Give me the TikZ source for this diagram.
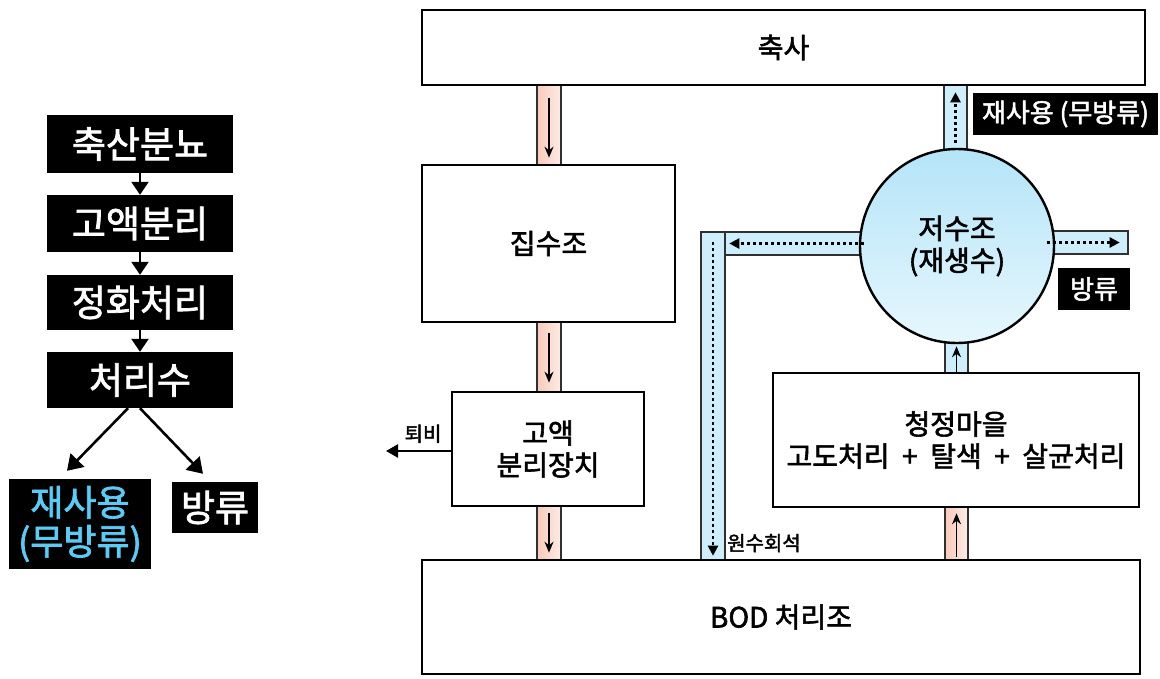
\documentclass[tikz,border=0pt]{standalone}
\usepackage{fontspec}
\setmainfont{Noto Sans CJK KR}
\newfontfamily\kr{Noto Sans CJK KR}[FakeBold=2]
\usetikzlibrary{arrows.meta}
\definecolor{pinkL}{HTML}{F8C9BA}
\definecolor{pinkR}{HTML}{FDEDE7}
\definecolor{pipeblue}{HTML}{CDEEFA}
\definecolor{circTop}{HTML}{B5E4F8}
\definecolor{circBot}{HTML}{E6F7FD}
\definecolor{cyantext}{HTML}{5EC9F2}
\definecolor{pipeline}{HTML}{303030}
\begin{document}
\begin{tikzpicture}[x=1pt,y=-1pt,
  box/.style={draw=black,line width=2.4pt,fill=white,inner sep=0pt,align=center,font=\kr\fontsize{28}{32}\selectfont},
  blk/.style={fill=black,text=white,inner sep=0pt,align=center,font=\kr\fontsize{37}{40}\selectfont},
  lbl/.style={fill=black,text=white,inner sep=0pt,align=center,font=\kr\fontsize{26}{30}\selectfont},
  ppipe/.style={draw=pipeline,line width=1.4pt,left color=pinkL,right color=pinkR,inner sep=0pt},
  bpipe/.style={draw=pipeline,line width=1.4pt,fill=pipeblue,inner sep=0pt},
  solidarr/.style={line width=1.5pt,-{Stealth[length=11pt,width=9pt]}},
  dotarr/.style={line width=2.4pt,dash pattern=on 2.4pt off 3.6pt,-{Triangle[length=10pt,width=10pt]}},
  flowarr/.style={line width=2.6pt,-{Triangle[length=15pt,width=19pt]}},
  shortarr/.style={line width=2.4pt,-{Triangle[length=13pt,width=17pt]}},
  small/.style={inner sep=0pt,font=\kr\fontsize{20}{24}\selectfont}
]
\useasboundingbox (0,0) rectangle (1160,678);
\fill[white] (0,0) rectangle (1160,678);

% ---------- left flowchart ----------
\node[blk,minimum width=186pt,minimum height=58pt] (b1) at (140,144) {축산분뇨};
\node[blk,minimum width=186pt,minimum height=57pt] (b2) at (140,223.5) {고액분리};
\node[blk,minimum width=186pt,minimum height=55pt] (b3) at (140,302.5) {정화처리};
\node[blk,minimum width=186pt,minimum height=56pt] (b4) at (140,380) {처리수};
\node[blk,text=cyantext,minimum width=142pt,minimum height=90pt,font=\kr\fontsize{36}{39}\selectfont] (b5) at (80,524) {재사용\\(무방류)};
\node[blk,minimum width=86pt,minimum height=51pt] (b6) at (215,507.5) {방류};
\draw[shortarr] (b1.south) -- (b2.north);
\draw[shortarr] (b2.south) -- (b3.north);
\draw[shortarr] (b3.south) -- (b4.north);
\draw[flowarr] ([xshift=-12pt]b4.south) -- ([xshift=-13pt,yshift=8pt]b5.north);
\draw[flowarr] (b4.south) -- ([xshift=-12pt,yshift=8pt]b6.north);

% ---------- pipes ----------
\node[ppipe,minimum width=24pt,minimum height=84pt] (p1) at (549,125) {};
\node[ppipe,minimum width=24pt,minimum height=74pt] (p2) at (549,357) {};
\node[ppipe,minimum width=24pt,minimum height=58pt] (p3) at (549,533) {};
\node[ppipe,minimum width=23pt,minimum height=58pt] (p4) at (956.5,533) {};
\node[bpipe,minimum width=23pt,minimum height=36pt] (q1) at (956.5,357) {};
\node[bpipe,minimum width=23pt,minimum height=72pt] (q2) at (955.5,119) {};
\node[bpipe,minimum width=85pt,minimum height=23pt] (q3) at (1085.5,242.5) {};
\node[bpipe,minimum width=145pt,minimum height=23pt] (q4) at (797.5,243.5) {};
\node[bpipe,minimum width=24pt,minimum height=330pt] (q5) at (713,397) {};

% ---------- main boxes ----------
\node[box,minimum width=723pt,minimum height=75pt] (chuksa) at (783.5,47.5) {축사};
\node[box,minimum width=253pt,minimum height=157pt] (jipsu) at (548.5,243.5) {집수조};
\node[box,minimum width=192pt,minimum height=114pt] (goak) at (548,449) {고액\\분리장치};
\node[box,minimum width=718pt,minimum height=114pt] (bod) at (781,617) {BOD 처리조};
\node[box,minimum width=366pt,minimum height=134pt] (cheong) at (956,440) {청정마을\\고도처리~ + ~탈색~ + ~살균처리};
\node[circle,draw=black,line width=2.4pt,top color=circTop,bottom color=circBot,minimum size=194pt,inner sep=0pt,align=center,font=\kr\fontsize{28}{32}\selectfont] (tank) at (957,246) {저수조\\(재생수)};

% ---------- labels ----------
\node[lbl,minimum width=185pt,minimum height=42pt] (reuse) at (1065.5,114) {재사용 (무방류)};
\node[lbl,minimum width=72pt,minimum height=42pt] (out) at (1094,289) {방류};
\node[small,anchor=south] (toebi) at (423,443) {퇴비};
\coordinate (toebiend) at (386,451);
\node[small,anchor=west] (dil) at (727,543) {원수회석};

% ---------- flow arrows ----------
\draw[solidarr] ([yshift=-16pt]p1.north) -- ([yshift=10pt]p1.south);
\draw[solidarr] ([yshift=-14pt]p2.north) -- ([yshift=12pt]p2.south);
\draw[solidarr] ([yshift=-10pt]p3.north) -- ([yshift=10pt]p3.south);
\draw[solidarr] ([yshift=6pt]p4.south) -- ([yshift=-10pt]p4.north);
\draw[solidarr] ([yshift=4pt]q1.south) -- ([yshift=-8pt]q1.north);
\draw[dotarr] ([yshift=13pt]q2.south) -- ([yshift=-10pt]q2.north);
\draw[dotarr] ([xshift=5pt]q3.west) -- ([xshift=-9pt]q3.east);
\draw[dotarr] ([xshift=-7pt]q4.east) -- ([xshift=5pt]q4.west);
\draw[dotarr] ([yshift=-11pt]q5.north) -- ([yshift=7pt]q5.south);
\draw[line width=2.4pt,-{Triangle[length=12pt,width=13pt]}] ([yshift=-2pt]goak.west) -- (toebiend);
\end{tikzpicture}
\end{document}
